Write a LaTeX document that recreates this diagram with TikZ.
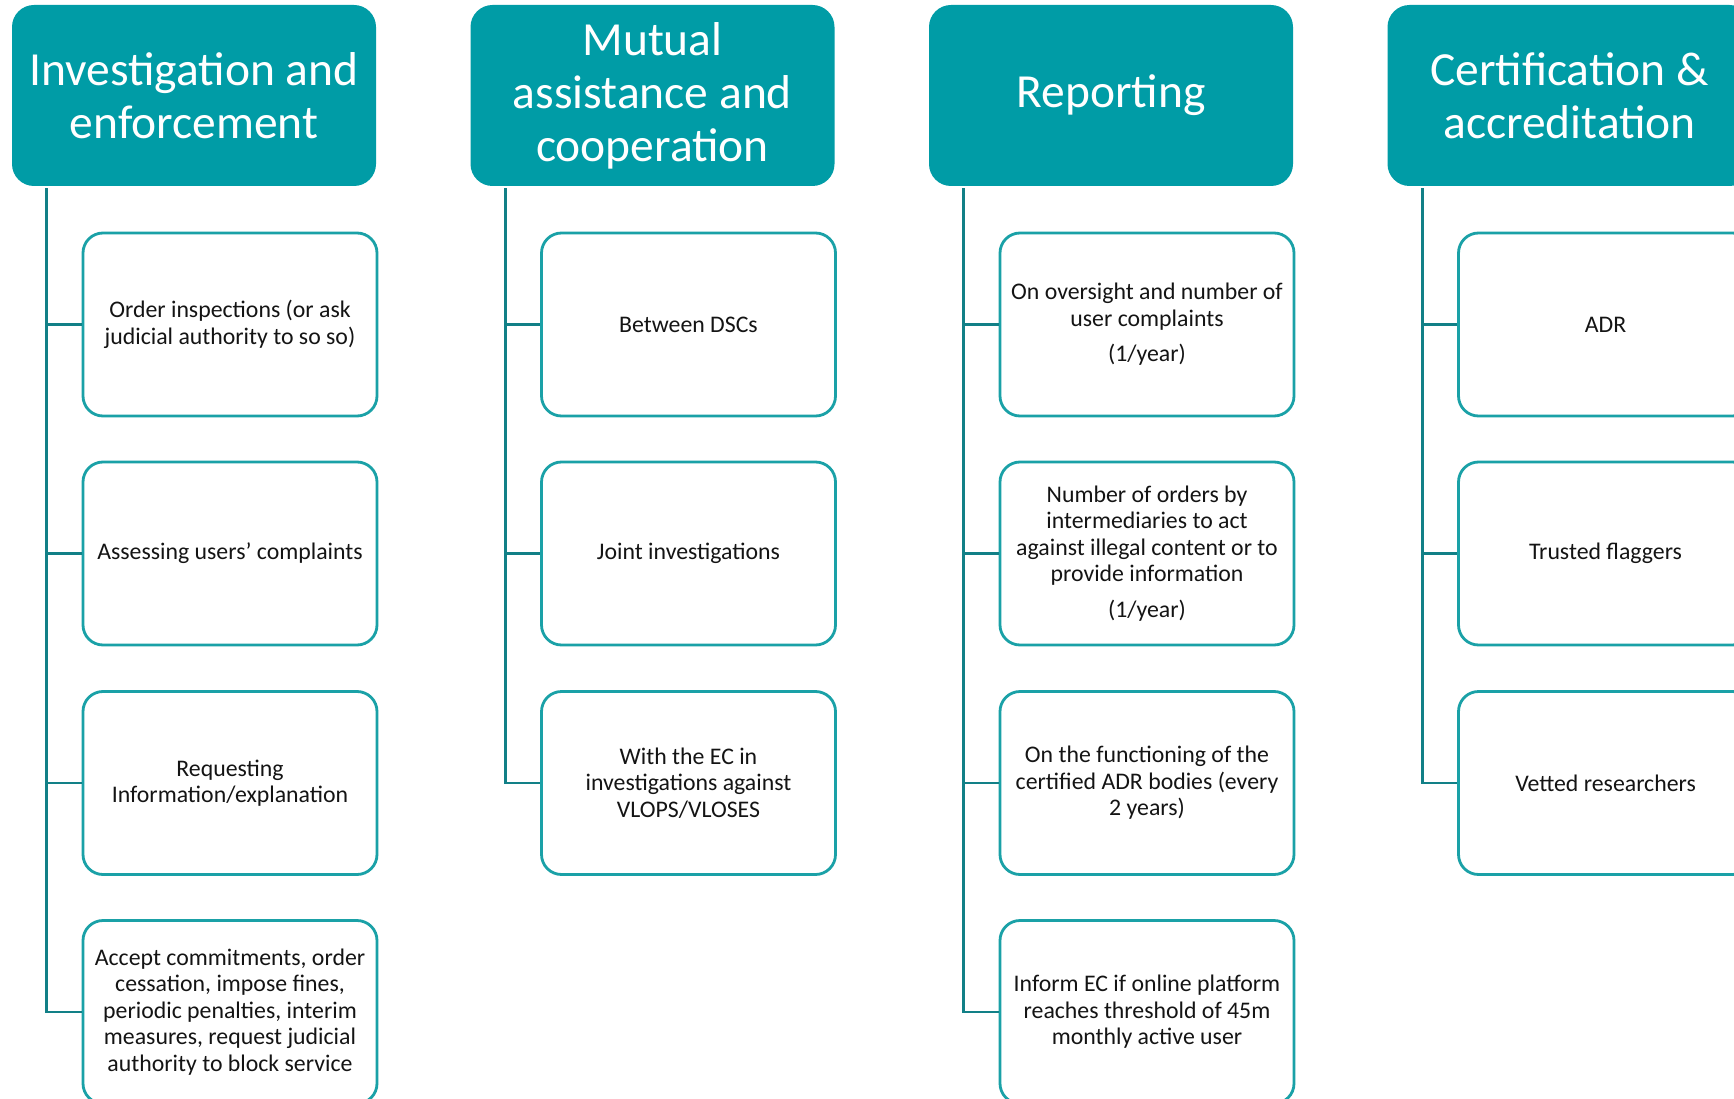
\documentclass[tikz,border=0pt]{standalone}
\usepackage{fontspec}
\setmainfont{Carlito}
\usetikzlibrary{calc}
\definecolor{headfill}{RGB}{0,156,166}
\definecolor{boxline}{RGB}{26,161,167}
\definecolor{treeline}{RGB}{18,128,135}
\definecolor{ink}{RGB}{20,20,20}
\begin{document}
\begin{tikzpicture}[x=1pt,y=-1pt,
  head/.style={fill=headfill, rounded corners=22pt, minimum width=364pt,
    minimum height=181pt, text=white, inner sep=0pt, align=center,
    font=\fontsize{47.5}{53}\selectfont},
  item/.style={draw=boxline, line width=2.8pt, rounded corners=20pt, fill=white,
    minimum width=294pt, minimum height=183pt, inner sep=0pt, align=center,
    text=ink, font=\fontsize{23.8}{26.5}\selectfont},
  conn/.style={draw=treeline, line width=2.8pt}]
\clip (0,0) rectangle (1734,1099);
\fill[white] (0,0) rectangle (1734,1099);

% column headers
\node[head] (h1) at (194,95.5) {Investigation and\\enforcement};
\node[head] (h2) at (652.5,95.5) {Mutual\\assistance and\\cooperation};
\node[head] (h3) at (1111,95.5) {Reporting};
\node[head] (h4) at (1569.5,95.5) {Certification \&\\accreditation};

% tree trunks start just below each header
\foreach \i in {1,...,4} {
  \coordinate (t\i) at ($(h\i.south west)+(35,2)$);
}

% column 1
\node[item] (b11) at (230,324.5) {Order inspections (or ask\\judicial authority to so so)};
\node[item] (b12) at (230,553.5) {Assessing users’ complaints};
\node[item] (b13) at (230,783) {Requesting\\Information/explanation};
\node[item] (b14) at (230,1012) {Accept commitments, order\\cessation, impose fines,\\periodic penalties, interim\\measures, request judicial\\authority to block service};

% column 2
\node[item] (b21) at (688.5,324.5) {Between DSCs};
\node[item] (b22) at (688.5,553.5) {Joint investigations};
\node[item] (b23) at (688.5,783) {With the EC in\\investigations against\\VLOPS/VLOSES};

% column 3
\node[item] (b31) at (1147,324.5) {On oversight and number of\\user complaints\\[9pt](1/year)};
\node[item] (b32) at (1147,553.5) {Number of orders by\\intermediaries to act\\against illegal content or to\\provide information\\[9pt](1/year)};
\node[item] (b33) at (1147,783) {On the functioning of the\\certified ADR bodies (every\\2 years)};
\node[item] (b34) at (1147,1012) {Inform EC if online platform\\reaches threshold of 45m\\monthly active user};

% column 4
\node[item] (b41) at (1605.5,324.5) {ADR};
\node[item] (b42) at (1605.5,553.5) {Trusted flaggers};
\node[item] (b43) at (1605.5,783) {Vetted researchers};

% connectors
\draw[conn] (t1) |- (b14.west);
\foreach \j in {1,2,3} \draw[conn] (t1 |- b1\j.west) -- (b1\j.west);
\draw[conn] (t2) |- (b23.west);
\foreach \j in {1,2} \draw[conn] (t2 |- b2\j.west) -- (b2\j.west);
\draw[conn] (t3) |- (b34.west);
\foreach \j in {1,2,3} \draw[conn] (t3 |- b3\j.west) -- (b3\j.west);
\draw[conn] (t4) |- (b43.west);
\foreach \j in {1,2} \draw[conn] (t4 |- b4\j.west) -- (b4\j.west);
\end{tikzpicture}
\end{document}
